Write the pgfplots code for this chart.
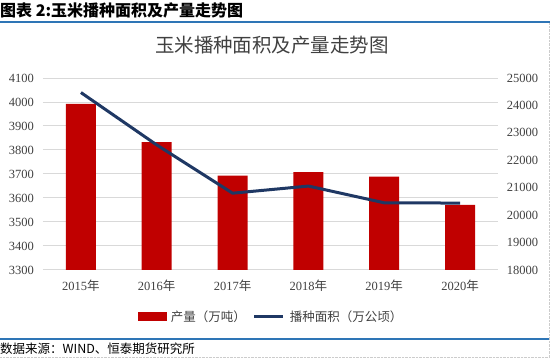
\documentclass[border=0pt]{standalone}
\usepackage{fontspec}
\usepackage{pgfplots}
\pgfplotsset{compat=1.18}
\setmainfont{Liberation Serif}
\newfontfamily\cjk{Noto Sans CJK SC}
\definecolor{barred}{RGB}{192,0,0}
\definecolor{navy}{RGB}{31,56,100}
\definecolor{rulecol}{RGB}{46,117,182}
\definecolor{gridcol}{RGB}{217,217,217}
\definecolor{txt}{RGB}{64,64,64}
\newcommand{\tf}{\fontsize{12.5}{13}\selectfont}
\begin{document}
\begin{tikzpicture}[x=1pt,y=1pt]
\useasboundingbox (0,0) rectangle (550,358);
\node[anchor=west, inner sep=0] at (0,348) {\cjk\bfseries\fontsize{16}{16}\selectfont 图表 2:玉米播种面积及产量走势图};
\draw[rulecol, line width=2pt] (0,336) -- (550,336);
\draw[rulecol, line width=2pt] (0,19) -- (550,19);
\draw[gray!40, densely dotted] (549,0) -- (549,335);
\draw[gray!40, densely dotted] (0,1) -- (549,1);
\node[anchor=west, inner sep=0] at (0,9) {\cjk\fontsize{12.5}{12.5}\selectfont 数据来源：WIND、恒泰期货研究所};
\node[inner sep=0, text=txt] at (272,312.5) {\cjk\fontsize{19.5}{19.5}\selectfont 玉米播种面积及产量走势图};

\begin{axis}[
  at={(43pt,88pt)}, anchor=south west,
  width=455pt, height=192pt, scale only axis,
  xmin=-0.5, xmax=5.5, ymin=3300, ymax=4100,
  ytick distance=100,
  xtick={0,1,2,3,4,5},
  xticklabels={{2015\cjk 年},{2016\cjk 年},{2017\cjk 年},{2018\cjk 年},{2019\cjk 年},{2020\cjk 年}},
  axis line style={draw=none},
  major tick length=0pt,
  ymajorgrids, major grid style={gridcol, line width=1pt},
  /pgf/number format/assume math mode=true,
  /pgf/number format/1000 sep={},
  scaled y ticks=false,
  yticklabel style={anchor=east, inner sep=0pt, xshift=-9pt, font=\tf, text=txt},
  xticklabel style={anchor=north, inner sep=0pt, yshift=-10pt, font=\tf, text=txt},
  clip=false,
]
\addplot[ybar, bar width=30pt, fill=barred, draw=none] coordinates {
 (0,3992) (1,3833) (2,3693) (3,3708) (4,3689) (5,3571)};
\end{axis}

\begin{axis}[
  at={(43pt,88pt)}, anchor=south west,
  width=455pt, height=192pt, scale only axis,
  xmin=-0.5, xmax=5.5, ymin=18000, ymax=25000,
  ytick distance=1000,
  axis x line=none, axis y line*=right,
  axis line style={draw=none},
  major tick length=0pt,
  /pgf/number format/assume math mode=true,
  /pgf/number format/1000 sep={},
  scaled y ticks=false,
  yticklabel style={anchor=west, inner sep=0pt, xshift=8.7pt, font=\tf, text=txt},
  legend style={at={(0.501,-0.243)}, anchor=center, draw=none, fill=none,
    legend columns=2, font=\cjk\tf, text=txt,
    /tikz/every odd column/.append style={column sep=3pt},
    /tikz/every even column/.append style={column sep=5pt}},
  legend cell align=left,
  clip=false,
]
\addlegendimage{legend image code/.code={\fill[barred] (0pt,-4pt) rectangle (28pt,4pt);}}
\addlegendentry{产量（万吨）}
\addplot[navy, line width=3pt, line join=round, forget plot] coordinates {
 (0,24470) (1,22560) (2,20800) (3,21060) (4,20450) (5,20440)};
\addlegendimage{legend image code/.code={\draw[navy, line width=3pt] (0pt,0pt) -- (29pt,0pt);}}
\addlegendentry{播种面积（万公顷）}
\end{axis}
\end{tikzpicture}
\end{document}
